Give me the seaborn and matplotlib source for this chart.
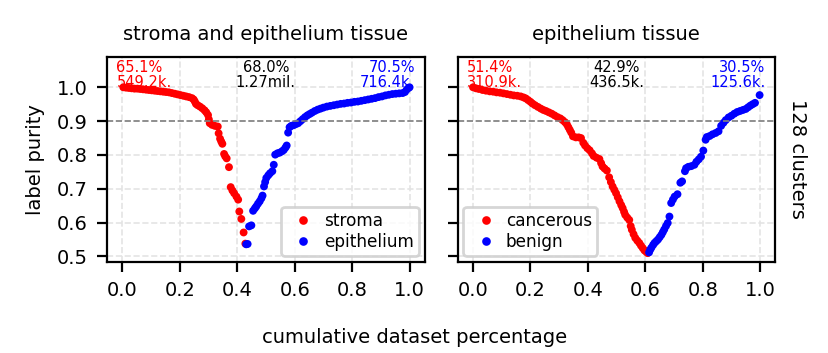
import matplotlib
matplotlib.use("Agg")
import matplotlib.pyplot as plt
import seaborn as sns
import pandas as pd

# left panel: stroma vs epithelium (128 clusters, sorted by purity)
stroma_x = [0.003, 0.012, 0.022, 0.032, 0.042, 0.052, 0.062, 0.072, 0.082, 0.092,
            0.102, 0.112, 0.122, 0.132, 0.142, 0.152, 0.162, 0.172, 0.182, 0.192,
            0.202, 0.212, 0.222, 0.232, 0.242, 0.248, 0.252, 0.256, 0.262, 0.270,
            0.278, 0.286, 0.292, 0.298, 0.301, 0.304, 0.312, 0.322, 0.332, 0.335,
            0.340, 0.344, 0.348, 0.354, 0.358, 0.363, 0.371, 0.377, 0.383, 0.389,
            0.397, 0.403, 0.407, 0.414, 0.422, 0.428]
stroma_y = [1.000, 0.999, 0.998, 0.997, 0.996, 0.996, 0.995, 0.994, 0.993, 0.992,
            0.991, 0.990, 0.989, 0.988, 0.987, 0.986, 0.985, 0.983, 0.981, 0.979,
            0.977, 0.975, 0.973, 0.971, 0.968, 0.964, 0.958, 0.951, 0.947, 0.943,
            0.938, 0.932, 0.926, 0.918, 0.905, 0.894, 0.889, 0.886, 0.884, 0.864,
            0.848, 0.840, 0.833, 0.803, 0.796, 0.790, 0.764, 0.705, 0.695, 0.687,
            0.677, 0.668, 0.633, 0.611, 0.571, 0.538]
epi_x = [0.431, 0.436, 0.441, 0.449, 0.455, 0.461, 0.466, 0.472, 0.478, 0.484,
         0.488, 0.493, 0.497, 0.501, 0.508, 0.514, 0.522, 0.527, 0.532, 0.540,
         0.548, 0.556, 0.562, 0.568, 0.572, 0.577, 0.582, 0.588, 0.596, 0.604,
         0.612, 0.620, 0.628, 0.636, 0.644, 0.652, 0.660, 0.670, 0.680, 0.690,
         0.700, 0.712, 0.724, 0.736, 0.748, 0.760, 0.772, 0.784, 0.796, 0.808,
         0.820, 0.832, 0.844, 0.856, 0.868, 0.880, 0.892, 0.904, 0.916, 0.928,
         0.940, 0.952, 0.964, 0.976, 0.984, 0.990, 0.996, 1.000]
epi_y = [0.536, 0.537, 0.589, 0.592, 0.635, 0.642, 0.648, 0.656, 0.663, 0.672,
         0.680, 0.707, 0.720, 0.732, 0.740, 0.746, 0.752, 0.771, 0.801, 0.805,
         0.807, 0.811, 0.815, 0.822, 0.828, 0.866, 0.882, 0.886, 0.888, 0.891,
         0.894, 0.900, 0.906, 0.912, 0.917, 0.921, 0.925, 0.930, 0.934, 0.937,
         0.940, 0.943, 0.945, 0.947, 0.949, 0.951, 0.952, 0.954, 0.955, 0.957,
         0.958, 0.960, 0.962, 0.964, 0.966, 0.968, 0.971, 0.973, 0.976, 0.978,
         0.980, 0.981, 0.982, 0.983, 0.986, 0.993, 0.998, 1.000]

# right panel: cancerous vs benign epithelium
canc_x = [0.000, 0.010, 0.020, 0.033, 0.045, 0.058, 0.070, 0.082, 0.094, 0.106,
          0.118, 0.130, 0.142, 0.154, 0.166, 0.176, 0.184, 0.192, 0.200, 0.207,
          0.216, 0.226, 0.236, 0.245, 0.254, 0.264, 0.274, 0.284, 0.294, 0.304,
          0.312, 0.320, 0.327, 0.332, 0.337, 0.342, 0.348, 0.358, 0.368, 0.376,
          0.384, 0.390, 0.398, 0.406, 0.414, 0.420, 0.430, 0.440, 0.446, 0.451,
          0.458, 0.466, 0.474, 0.480, 0.486, 0.492, 0.498, 0.504, 0.510, 0.516,
          0.521, 0.526, 0.530, 0.537, 0.544, 0.549, 0.553, 0.559, 0.565, 0.572,
          0.579, 0.585, 0.591, 0.597, 0.603, 0.608]
canc_y = [1.000, 0.997, 0.995, 0.992, 0.990, 0.988, 0.987, 0.985, 0.984, 0.982,
          0.980, 0.978, 0.976, 0.975, 0.973, 0.970, 0.967, 0.962, 0.957, 0.952,
          0.947, 0.942, 0.937, 0.933, 0.930, 0.926, 0.922, 0.917, 0.912, 0.908,
          0.903, 0.897, 0.890, 0.882, 0.874, 0.866, 0.855, 0.852, 0.852, 0.850,
          0.836, 0.828, 0.820, 0.814, 0.805, 0.797, 0.792, 0.788, 0.776, 0.766,
          0.760, 0.754, 0.734, 0.720, 0.707, 0.697, 0.687, 0.675, 0.663, 0.652,
          0.643, 0.632, 0.623, 0.615, 0.608, 0.590, 0.579, 0.566, 0.555, 0.547,
          0.540, 0.532, 0.525, 0.518, 0.514, 0.510]
ben_x = [0.613, 0.617, 0.621, 0.627, 0.632, 0.638, 0.644, 0.650, 0.656, 0.661,
         0.666, 0.672, 0.678, 0.684, 0.690, 0.696, 0.702, 0.712, 0.722, 0.728,
         0.738, 0.742, 0.750, 0.760, 0.771, 0.778, 0.786, 0.794, 0.802, 0.810,
         0.814, 0.824, 0.834, 0.845, 0.855, 0.864, 0.872, 0.880, 0.890, 0.900,
         0.910, 0.920, 0.930, 0.940, 0.950, 0.958, 0.966, 0.974, 0.982, 0.998]
ben_y = [0.512, 0.520, 0.526, 0.534, 0.540, 0.545, 0.550, 0.557, 0.564, 0.572,
         0.580, 0.590, 0.599, 0.618, 0.658, 0.668, 0.677, 0.684, 0.718, 0.722,
         0.752, 0.761, 0.765, 0.767, 0.771, 0.780, 0.787, 0.795, 0.813, 0.845,
         0.853, 0.856, 0.861, 0.865, 0.870, 0.886, 0.895, 0.903, 0.911, 0.916,
         0.922, 0.927, 0.930, 0.933, 0.936, 0.941, 0.946, 0.950, 0.954, 0.977]

titles = ["stroma and epithelium tissue", "epithelium tissue"]
names = [("stroma", "epithelium"), ("cancerous", "benign")]
notes = [("65.1%\n549.2k.", "68.0%\n1.27mil.", "70.5%\n716.4k."),
         ("51.4%\n310.9k.", "42.9%\n436.5k.", "30.5%\n125.6k.")]

sns.set_style("ticks", rc={"axes.edgecolor": "black", "text.color": "black",
                           "axes.labelcolor": "black", "xtick.color": "black",
                           "ytick.color": "black"})
plt.rcParams["font.family"] = ["DejaVu Sans"]

fig, axes = plt.subplots(1, 2, figsize=(4.145, 1.765), dpi=200, sharey=True)
fig.subplots_adjust(left=0.129, right=0.935, top=0.839, bottom=0.259, wspace=0.104)

panels = [(stroma_x, stroma_y, epi_x, epi_y), (canc_x, canc_y, ben_x, ben_y)]
for i, ax in enumerate(axes):
    rx, ry, bx, by = panels[i]
    a, b = names[i]
    df = pd.DataFrame({"x": rx + bx, "y": ry + by,
                       "label": [a] * len(rx) + [b] * len(bx)})
    sns.scatterplot(data=df, x="x", y="y", hue="label",
                    palette={a: "red", b: "blue"}, s=8, linewidth=0, ax=ax)
    ax.axhline(0.9, color="grey", ls="--", lw=0.6)
    ax.grid(True, ls="--", color="#e4e4e4", lw=0.6)
    ax.set_axisbelow(True)
    ax.set_xlim(-0.054, 1.052)
    ax.set_ylim(0.485, 1.09)
    ax.set_xticks([0, 0.2, 0.4, 0.6, 0.8, 1.0])
    ax.set_yticks([0.5, 0.6, 0.7, 0.8, 0.9, 1.0])
    ax.tick_params(labelsize=7, width=0.8, length=3.5, pad=3.5)
    for sp in ax.spines.values():
        sp.set_linewidth(0.8)
    ax.set_xlabel("")
    ax.set_ylabel("")
    ax.set_title(titles[i], fontsize=7, pad=6)
    ax.legend(loc="lower right" if i == 0 else "lower left", fontsize=6.1,
              handletextpad=0.2, borderpad=0.3, labelspacing=0.15,
              borderaxespad=0.35, markerscale=1.1)
    t1, t2, t3 = notes[i]
    kw = dict(transform=ax.transAxes, va="top", fontsize=5.25, linespacing=1.0)
    ax.text(0.03, 0.985, t1, ha="left", color="red", **kw)
    ax.text(0.5, 0.985, t2, ha="center", color="black", multialignment="center", **kw)
    ax.text(0.97, 0.985, t3, ha="right", color="blue", multialignment="right", **kw)

axes[0].set_ylabel("label purity", fontsize=7, labelpad=4)
fig.text(0.5, 0.0425, "cumulative dataset percentage", ha="center", va="center", fontsize=7)
fig.text(0.962, 0.55, "128 clusters", rotation=-90, ha="center", va="center", fontsize=7)

fig.savefig("out.png", dpi=200)
